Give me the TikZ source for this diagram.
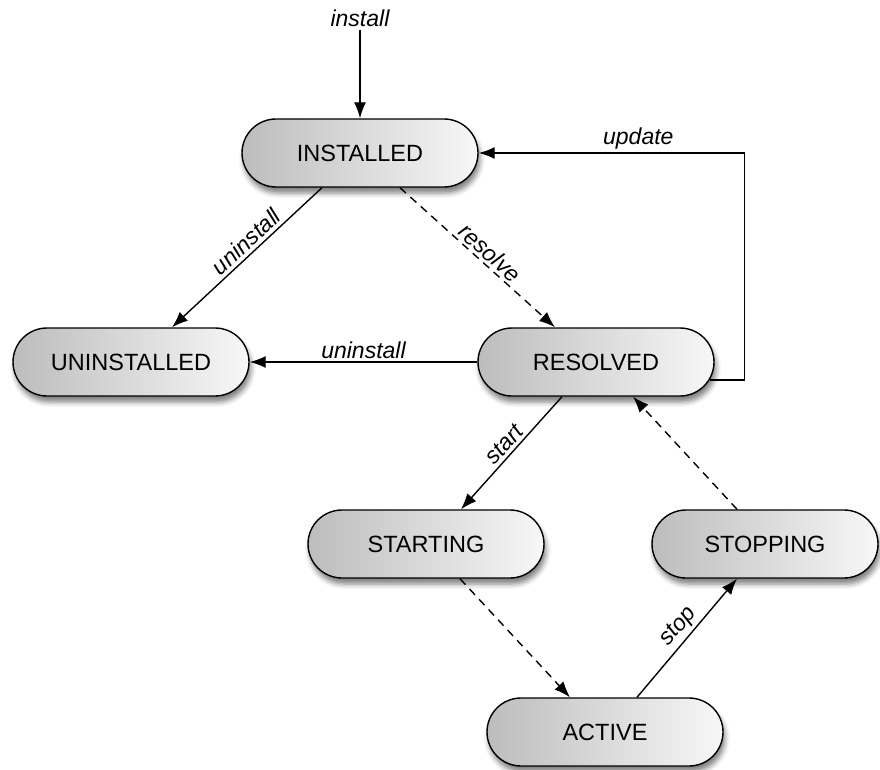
\documentclass[tikz,border=0pt]{standalone}
\usepackage{fontspec}
\setmainfont{Liberation Sans}
\usetikzlibrary{arrows.meta,shadows.blur}
\begin{document}
\begin{tikzpicture}[x=1pt,y=-1pt,
 state/.style={draw=black, line width=1.4pt, rounded corners=34pt, minimum width=236pt, minimum height=68pt,
   left color=black!26, right color=black!3, font=\fontsize{23.5}{27}\selectfont,
   blur shadow={shadow xshift=2pt, shadow yshift=-6pt, shadow blur radius=5pt, shadow opacity=50}},
 tr/.style={line width=1.4pt, -{Latex[length=16pt,width=12pt]}},
 lbl/.style={font=\fontsize{23}{26}\selectfont\itshape, inner sep=3pt},
 dsh/.style={dash pattern=on 8pt off 6pt}]
\useasboundingbox (0,0) rectangle (880,770);

\node[state] (installed) at (360,153) {INSTALLED};
\node[state] (uninstalled) at (131,362) {UNINSTALLED};
\node[state] (resolved) at (596,362) {RESOLVED};
\node[state] (starting) at (426,544) {STARTING};
\node[state, minimum width=226pt] (stopping) at (765,544) {STOPPING};
\node[state] (active) at (605,732) {ACTIVE};
\node[lbl] (installlbl) at (360,18) {install};

\draw[tr] (installlbl) -- (installed);
\draw[tr] ([xshift=-38pt]installed.south) -- node[lbl, sloped, above, pos=0.45] {uninstall} ([xshift=41pt]uninstalled.north);
\draw[tr, dsh] ([xshift=40pt]installed.south) -- node[lbl, sloped, above, pos=0.53] {resolve} ([xshift=-41pt]resolved.north);
\draw[tr] ([xshift=-5pt,yshift=-18pt]resolved.east) -- ++(35,0) |- node[lbl, above, pos=0.7] {update} (installed.east);
\draw[tr] (resolved.west) -- node[lbl, above] {uninstall} (uninstalled.east);
\draw[tr] ([xshift=-34pt]resolved.south) -- node[lbl, sloped, above, pos=0.49] {start} ([xshift=35pt]starting.north);
\draw[tr, dsh] ([xshift=-28pt]stopping.north) -- ([xshift=37pt]resolved.south);
\draw[tr, dsh] ([xshift=34pt]starting.south) -- ([xshift=-35pt]active.north);
\draw[tr] ([xshift=32pt]active.north) -- node[lbl, sloped, above, pos=0.52] {stop} ([xshift=-28pt]stopping.south);
\end{tikzpicture}
\end{document}
